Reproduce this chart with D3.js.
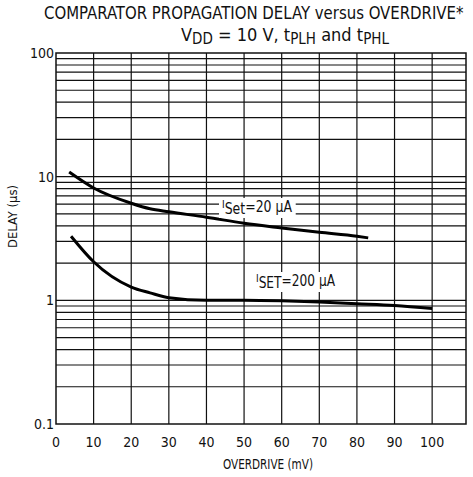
<!DOCTYPE html>
<html>
<head>
<meta charset="utf-8">
<script src="https://cdn.jsdelivr.net/npm/d3@7"></script>
<style>
  body { margin: 0; background: #fff; }
  text { font-family: "DejaVu Sans Condensed", "Liberation Sans Narrow", sans-serif; fill: #111; }
</style>
</head>
<body>
<div id="chart"></div>
<script>
// values (overdrive mV, delay µs)
const overdrive20 = [3.5, 10, 20, 25, 30, 40, 50, 60, 70, 80, 83];
const delay20 = [10.9, 8.1, 6.1, 5.5, 5.2, 4.7, 4.2, 3.85, 3.55, 3.3, 3.2];
const overdrive200 = [4, 10, 20, 25, 30, 40, 50, 60, 70, 80, 90, 100];
const delay200 = [3.3, 2.05, 1.28, 1.15, 1.05, 1.0, 1.0, 0.99, 0.97, 0.94, 0.91, 0.86];
const xTicks = [0, 10, 20, 30, 40, 50, 60, 70, 80, 90, 100];
const yTicks = [0.1, 1, 10, 100];

const W = 473, H = 477;
const plot = { left: 56, right: 466, top: 53, bottom: 424 };

const svg = d3.select("#chart").append("svg")
    .attr("width", W)
    .attr("height", H);

const x = d3.scaleLinear().domain([0, 109]).range([plot.left, plot.right]);
const y = d3.scaleLog().domain([0.1, 100]).range([plot.bottom, plot.top]);

// grid
const minor = [];
[0.1, 1, 10].forEach(d => { for (let k = 1; k <= 9; k++) minor.push(d * k); });
svg.append("g").selectAll("line")
    .data(minor.filter(v => v > 0.1))
    .join("line")
    .attr("x1", plot.left).attr("x2", plot.right)
    .attr("y1", d => y(d)).attr("y2", d => y(d))
    .attr("stroke", "#111").attr("stroke-width", 1.2);

svg.append("g").selectAll("line")
    .data(xTicks.filter(v => v > 0))
    .join("line")
    .attr("x1", d => x(d)).attr("x2", d => x(d))
    .attr("y1", plot.top).attr("y2", plot.bottom)
    .attr("stroke", "#111").attr("stroke-width", 1.2);

svg.append("rect")
    .attr("x", plot.left).attr("y", plot.top)
    .attr("width", plot.right - plot.left).attr("height", plot.bottom - plot.top)
    .attr("fill", "none").attr("stroke", "#111").attr("stroke-width", 1.5);

// axes labels
svg.append("g").selectAll("text")
    .data(xTicks)
    .join("text")
    .attr("x", d => x(d)).attr("y", 447)
    .attr("text-anchor", "middle")
    .attr("font-size", 14)
    .text(d => d);

svg.append("g").selectAll("text")
    .data(yTicks)
    .join("text")
    .attr("x", plot.left - 2).attr("y", d => y(d) + 5)
    .attr("text-anchor", "end")
    .attr("font-size", 14)
    .text(d => d);

svg.append("text")
    .attr("x", 223).attr("y", 469)
    .attr("font-size", 14)
    .attr("textLength", 90).attr("lengthAdjust", "spacingAndGlyphs")
    .text("OVERDRIVE (mV)");

svg.append("text")
    .attr("transform", "translate(17,248) rotate(-90)")
    .attr("font-size", 13)
    .attr("textLength", 63).attr("lengthAdjust", "spacingAndGlyphs")
    .text("DELAY (µs)");

// title, squeezed horizontally to fit the reference width
const t1 = svg.append("text")
    .attr("font-size", 18)
    .text("COMPARATOR PROPAGATION DELAY versus OVERDRIVE*");
const k1 = 420 / t1.node().getComputedTextLength();
t1.attr("transform", `translate(44,19) scale(${k1},1)`);

const t2 = svg.append("text")
    .attr("x", 285).attr("y", 41)
    .attr("text-anchor", "middle")
    .attr("font-size", 18);
t2.append("tspan").text("V");
t2.append("tspan").attr("dy", 3).attr("font-size", 15).text("DD");
t2.append("tspan").attr("dy", -3).text(" = 10 V, t");
t2.append("tspan").attr("dy", 3).attr("font-size", 15).text("PLH");
t2.append("tspan").attr("dy", -3).text(" and t");
t2.append("tspan").attr("dy", 3).attr("font-size", 15).text("PHL");

// curves
const line = d3.line()
    .x(d => x(d[0]))
    .y(d => y(d[1]))
    .curve(d3.curveMonotoneX);

const series = [
    d3.zip(overdrive20, delay20),
    d3.zip(overdrive200, delay200)
];

svg.append("g").selectAll("path")
    .data(series)
    .join("path")
    .attr("d", line)
    .attr("fill", "none")
    .attr("stroke", "#000")
    .attr("stroke-width", 3);

// curve labels with white boxes behind
function curveLabel(cx, cy, len, sub, val) {
    const g = svg.append("g");
    const t = g.append("text")
        .attr("x", cx).attr("y", cy)
        .attr("font-size", 15)
        .attr("textLength", len).attr("lengthAdjust", "spacingAndGlyphs");
    t.append("tspan").attr("font-size", 11).attr("dy", -4).text("I");
    t.append("tspan").attr("dy", 6).text(sub);
    t.append("tspan").attr("dy", -2).text("=" + val + " µA");
    const b = t.node().getBBox();
    g.insert("rect", "text")
        .attr("x", b.x - 3).attr("y", b.y)
        .attr("width", b.width + 6).attr("height", b.height)
        .attr("fill", "#fff");
}
curveLabel(222, 212, 70, "Set", 20);
curveLabel(256, 286, 79, "SET", 200);
</script>
</body>
</html>
